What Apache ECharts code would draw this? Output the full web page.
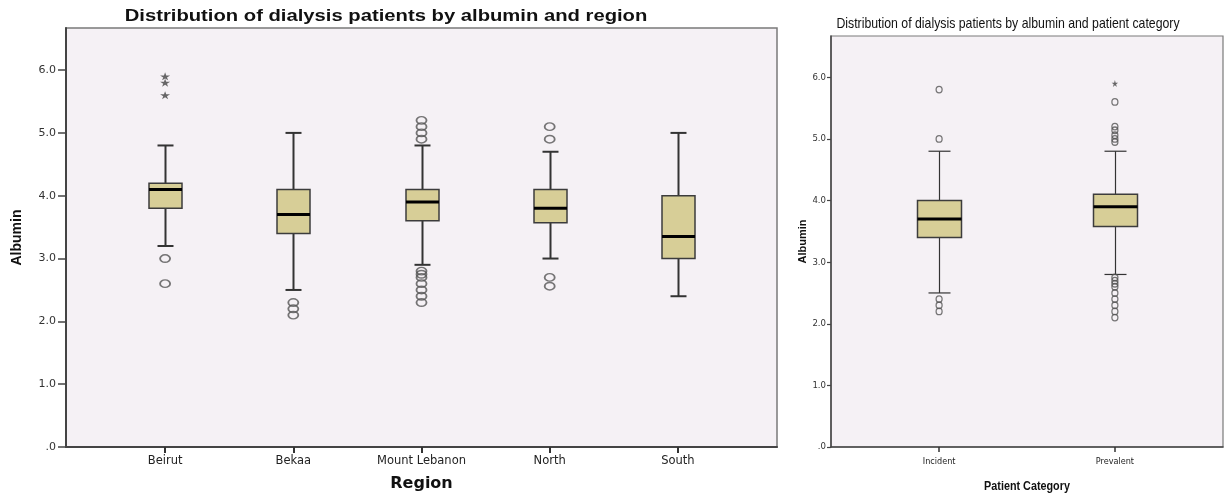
<!DOCTYPE html>
<html>
<head>
<meta charset="utf-8">
<script src="https://cdn.jsdelivr.net/npm/echarts@6/dist/echarts.min.js"></script>
<style>
  html, body { margin: 0; padding: 0; background: #ffffff; }
  #chart { width: 1225px; height: 495px; }
</style>
</head>
<body>
<div id="chart"></div>
<script>
// ---- Albumin by region ----
const regions = ['Beirut', 'Bekaa', 'Mount Lebanon', 'North', 'South'];
// [lower whisker, Q1, median, Q3, upper whisker]
const regionBoxes = [
  [3.2, 3.8, 4.1, 4.2, 4.8],
  [2.5, 3.4, 3.7, 4.1, 5.0],
  [2.9, 3.6, 3.9, 4.1, 4.8],
  [3.0, 3.57, 3.8, 4.1, 4.7],
  [2.4, 3.0, 3.35, 4.0, 5.0]
];
const regionOutliers = [
  [3.0, 2.6],
  [2.3, 2.2, 2.1],
  [5.2, 5.1, 5.0, 4.9, 2.8, 2.75, 2.7, 2.6, 2.5, 2.4, 2.3],
  [5.1, 4.9, 2.7, 2.56],
  []
];
const regionExtremes = [
  [5.9, 5.8, 5.6],
  [],
  [],
  [],
  []
];

// ---- Albumin by patient category ----
const categories = ['Incident', 'Prevalent'];
const categoryBoxes = [
  [2.5, 3.4, 3.7, 4.0, 4.8],
  [2.8, 3.58, 3.9, 4.1, 4.8]
];
const categoryOutliers = [
  [5.8, 5.0, 2.4, 2.3, 2.2],
  [5.6, 5.2, 5.14, 5.06, 5.0, 4.95, 2.75, 2.7, 2.65, 2.6, 2.5, 2.4, 2.3, 2.2, 2.1]
];
const categoryExtremes = [
  [],
  [5.9]
];

const yTicks = [0, 1, 2, 3, 4, 5, 6];

const BOX_FILL = '#D7CE97';
const PLOT_BG = '#F5F1F5';
const STAR = 'path://M50,0 L61,35 L98,35 L68,57 L79,91 L50,70 L21,91 L32,57 L2,35 L39,35 Z';

function boxRows(boxes) {
  return boxes.map((b, i) => [i].concat(b));
}
function pointRows(groups) {
  const rows = [];
  groups.forEach((vals, i) => vals.forEach(v => rows.push([i, v])));
  return rows;
}

function boxRenderer(boxW, capW, lineW) {
  return function (params, api) {
    const x = api.value(0);
    const lo = api.coord([x, api.value(1)]);
    const q1 = api.coord([x, api.value(2)]);
    const md = api.coord([x, api.value(3)]);
    const q3 = api.coord([x, api.value(4)]);
    const hi = api.coord([x, api.value(5)]);
    const cx = Math.round(md[0]) + 0.5;
    const ls = { stroke: '#333333', lineWidth: lineW, fill: null };
    return {
      type: 'group',
      children: [
        { type: 'line', shape: { x1: cx, y1: q3[1], x2: cx, y2: hi[1] }, style: ls },
        { type: 'line', shape: { x1: cx, y1: q1[1], x2: cx, y2: lo[1] }, style: ls },
        { type: 'line', shape: { x1: cx - capW / 2, y1: hi[1], x2: cx + capW / 2, y2: hi[1] }, style: ls },
        { type: 'line', shape: { x1: cx - capW / 2, y1: lo[1], x2: cx + capW / 2, y2: lo[1] }, style: ls },
        { type: 'rect', shape: { x: cx - boxW / 2, y: q3[1], width: boxW, height: q1[1] - q3[1] },
          style: { fill: BOX_FILL, stroke: '#3c3c3c', lineWidth: 1.5 } },
        { type: 'line', shape: { x1: cx - boxW / 2, y1: md[1], x2: cx + boxW / 2, y2: md[1] },
          style: { stroke: '#000000', lineWidth: 3 } }
      ]
    };
  };
}

const fmtY = v => (v === 0 ? '.0' : v.toFixed(1));
const WIDE = '"DejaVu Sans", sans-serif';
const NARROW = '"DejaVu Sans Condensed", "Liberation Sans", sans-serif';
const ARIAL = '"Liberation Sans", Arial, sans-serif';

const chart = echarts.init(document.getElementById('chart'), null, { renderer: 'canvas' });

chart.setOption({
  animation: false,
  backgroundColor: '#ffffff',
  graphic: [
    {
      type: 'text', x: 386, y: 16, scaleX: 1.19, silent: true,
      style: { text: 'Distribution of dialysis patients by albumin and region',
        fontFamily: ARIAL, fontSize: 17, fontWeight: 'bold', fill: '#111',
        align: 'center', verticalAlign: 'middle' }
    },
    {
      type: 'text', x: 1008, y: 24, scaleX: 0.82, silent: true,
      style: { text: 'Distribution of dialysis patients by albumin and patient category',
        fontFamily: ARIAL, fontSize: 15, fill: '#111',
        align: 'center', verticalAlign: 'middle' }
    },
    {
      type: 'text', x: 1027, y: 486, scaleX: 0.8, silent: true,
      style: { text: 'Patient Category',
        fontFamily: ARIAL, fontSize: 13.5, fontWeight: 'bold', fill: '#111',
        align: 'center', verticalAlign: 'middle' }
    }
  ],
  grid: [
    { left: 66, top: 28, width: 711, height: 419, show: true, backgroundColor: PLOT_BG,
      borderColor: '#7a7a7a', borderWidth: 1.5, outerBoundsMode: 'none', containLabel: false },
    { left: 831, top: 36, width: 392, height: 411, show: true, backgroundColor: PLOT_BG,
      borderColor: '#7a7a7a', borderWidth: 1.2, outerBoundsMode: 'none', containLabel: false }
  ],
  xAxis: [
    {
      gridIndex: 0, type: 'value', min: -0.773, max: 4.773,
      name: 'Region', nameLocation: 'middle', nameGap: 29,
      nameTextStyle: { fontFamily: WIDE, fontSize: 16, fontWeight: 'bold', color: '#111' },
      axisLine: { show: true, onZero: false, lineStyle: { color: '#444', width: 2 } },
      axisTick: { show: true, customValues: regions.map((_, i) => i), length: 6, lineStyle: { color: '#333', width: 2 } },
      axisLabel: { customValues: regions.map((_, i) => i), formatter: v => regions[Math.round(v)] || '',
        fontFamily: WIDE, fontSize: 11.5, color: '#222', margin: 8 },
      splitLine: { show: false }
    },
    {
      gridIndex: 1, type: 'value', min: -0.615, max: 1.615,
      axisLine: { show: true, onZero: false, lineStyle: { color: '#444', width: 1.5 } },
      axisTick: { show: true, customValues: categories.map((_, i) => i), length: 5, lineStyle: { color: '#333', width: 1.5 } },
      axisLabel: { customValues: categories.map((_, i) => i), formatter: v => categories[Math.round(v)] || '',
        fontFamily: NARROW, fontSize: 9, color: '#222', margin: 10 },
      splitLine: { show: false }
    }
  ],
  yAxis: [
    {
      gridIndex: 0, type: 'value', min: 0, max: 6.67,
      name: 'Albumin', nameLocation: 'middle', nameGap: 42, nameRotate: 90,
      nameTextStyle: { fontFamily: ARIAL, fontSize: 14, fontWeight: 'bold', color: '#111' },
      axisLine: { show: true, onZero: false, lineStyle: { color: '#444', width: 2 } },
      axisTick: { show: true, customValues: yTicks, length: 8, lineStyle: { color: '#444', width: 1.5 } },
      axisLabel: { customValues: yTicks, formatter: fmtY, fontFamily: WIDE, fontSize: 11, color: '#333', margin: 10 },
      splitLine: { show: false }
    },
    {
      gridIndex: 1, type: 'value', min: 0, max: 6.67,
      name: 'Albumin', nameLocation: 'middle', nameGap: 22, nameRotate: 90,
      nameTextStyle: { fontFamily: ARIAL, fontSize: 11, fontWeight: 'bold', color: '#111' },
      axisLine: { show: true, onZero: false, lineStyle: { color: '#444', width: 1.5 } },
      axisTick: { show: true, customValues: yTicks, length: 4, lineStyle: { color: '#444', width: 1.2 } },
      axisLabel: { customValues: yTicks, formatter: fmtY, fontFamily: NARROW, fontSize: 9.5, color: '#333', margin: 5 },
      splitLine: { show: false }
    }
  ],
  series: [
    {
      type: 'custom', xAxisIndex: 0, yAxisIndex: 0,
      data: boxRows(regionBoxes),
      encode: { x: 0, y: [1, 2, 3, 4, 5] },
      renderItem: boxRenderer(33, 16, 2),
      z: 3, silent: true
    },
    {
      type: 'scatter', xAxisIndex: 0, yAxisIndex: 0,
      data: pointRows(regionOutliers),
      symbol: 'circle', symbolSize: [10, 7.5],
      itemStyle: { color: 'rgba(0,0,0,0)', borderColor: '#555', borderWidth: 1.6 },
      z: 4, silent: true
    },
    {
      type: 'scatter', xAxisIndex: 0, yAxisIndex: 0,
      data: pointRows(regionExtremes),
      symbol: STAR, symbolSize: [10, 8],
      itemStyle: { color: '#444' },
      z: 4, silent: true
    },
    {
      type: 'custom', xAxisIndex: 1, yAxisIndex: 1,
      data: boxRows(categoryBoxes),
      encode: { x: 0, y: [1, 2, 3, 4, 5] },
      renderItem: boxRenderer(44, 22, 1.2),
      z: 3, silent: true
    },
    {
      type: 'scatter', xAxisIndex: 1, yAxisIndex: 1,
      data: pointRows(categoryOutliers),
      symbol: 'circle', symbolSize: [6, 6.5],
      itemStyle: { color: 'rgba(0,0,0,0)', borderColor: '#555', borderWidth: 1.3 },
      z: 4, silent: true
    },
    {
      type: 'scatter', xAxisIndex: 1, yAxisIndex: 1,
      data: pointRows(categoryExtremes),
      symbol: STAR, symbolSize: [6.5, 7],
      itemStyle: { color: '#444' },
      z: 4, silent: true
    }
  ]
});
</script>
</body>
</html>
